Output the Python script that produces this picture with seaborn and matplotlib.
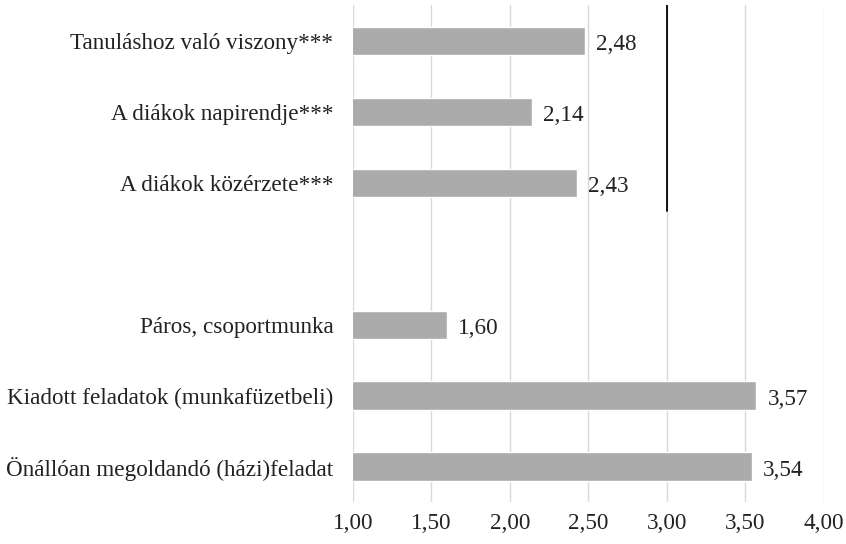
import matplotlib
matplotlib.use("Agg")
import matplotlib.pyplot as plt
import seaborn as sns
import pandas as pd

# data (top to bottom)
categories = [
    "Tanuláshoz való viszony***",
    "A diákok napirendje***",
    "A diákok közérzete***",
    "Páros, csoportmunka",
    "Kiadott feladatok (munkafüzetbeli)",
    "Önállóan megoldandó (házi)feladat",
]
values = [2.48, 2.14, 2.43, 1.60, 3.57, 3.54]
order = categories[:3] + [" "] + categories[3:]
xticks = [1.0, 1.5, 2.0, 2.5, 3.0, 3.5, 4.0]

sns.set_theme(style="white")
plt.rcParams["font.family"] = "serif"
plt.rcParams["font.serif"] = ["Liberation Serif", "DejaVu Serif"]

df = pd.DataFrame({"cat": categories, "val": values})

fig, ax = plt.subplots(figsize=(8.46, 5.44), dpi=100)
fig.subplots_adjust(left=0.417, right=0.974, top=0.99, bottom=0.077)

sns.barplot(data=df, x="val", y="cat", order=order, color="#ababab",
            saturation=1, width=0.4, ax=ax, orient="h")

ax.set_xlim(1.0, 4.0)
ax.set_ylim(len(order) - 0.5, -0.5)
ax.set_xticks(xticks)
ax.set_xticklabels([f"{t:.2f}".replace(".", ",") for t in xticks])
ax.xaxis.grid(True, color="#d9d9d9", linewidth=1)
ax.set_axisbelow(True)
for s in ax.spines.values():
    s.set_visible(False)
ax.tick_params(axis="both", length=0, labelsize=16.7, colors="#222222")
ax.tick_params(axis="x", pad=8)
ax.tick_params(axis="y", pad=14)
ax.set_xlabel("")
ax.set_ylabel("")

# value labels
for c, v in zip(categories, values):
    y = order.index(c)
    ax.text(v + 0.07, y + 0.05, f"{v:.2f}".replace(".", ","), va="center",
            ha="left", fontsize=16.7, color="#222222")

# reference line at 3.00 for the top block
ax.plot([3.0, 3.0], [-0.5, 2.4], color="black", linewidth=1.3)

fig.savefig("out.png", dpi=100)
